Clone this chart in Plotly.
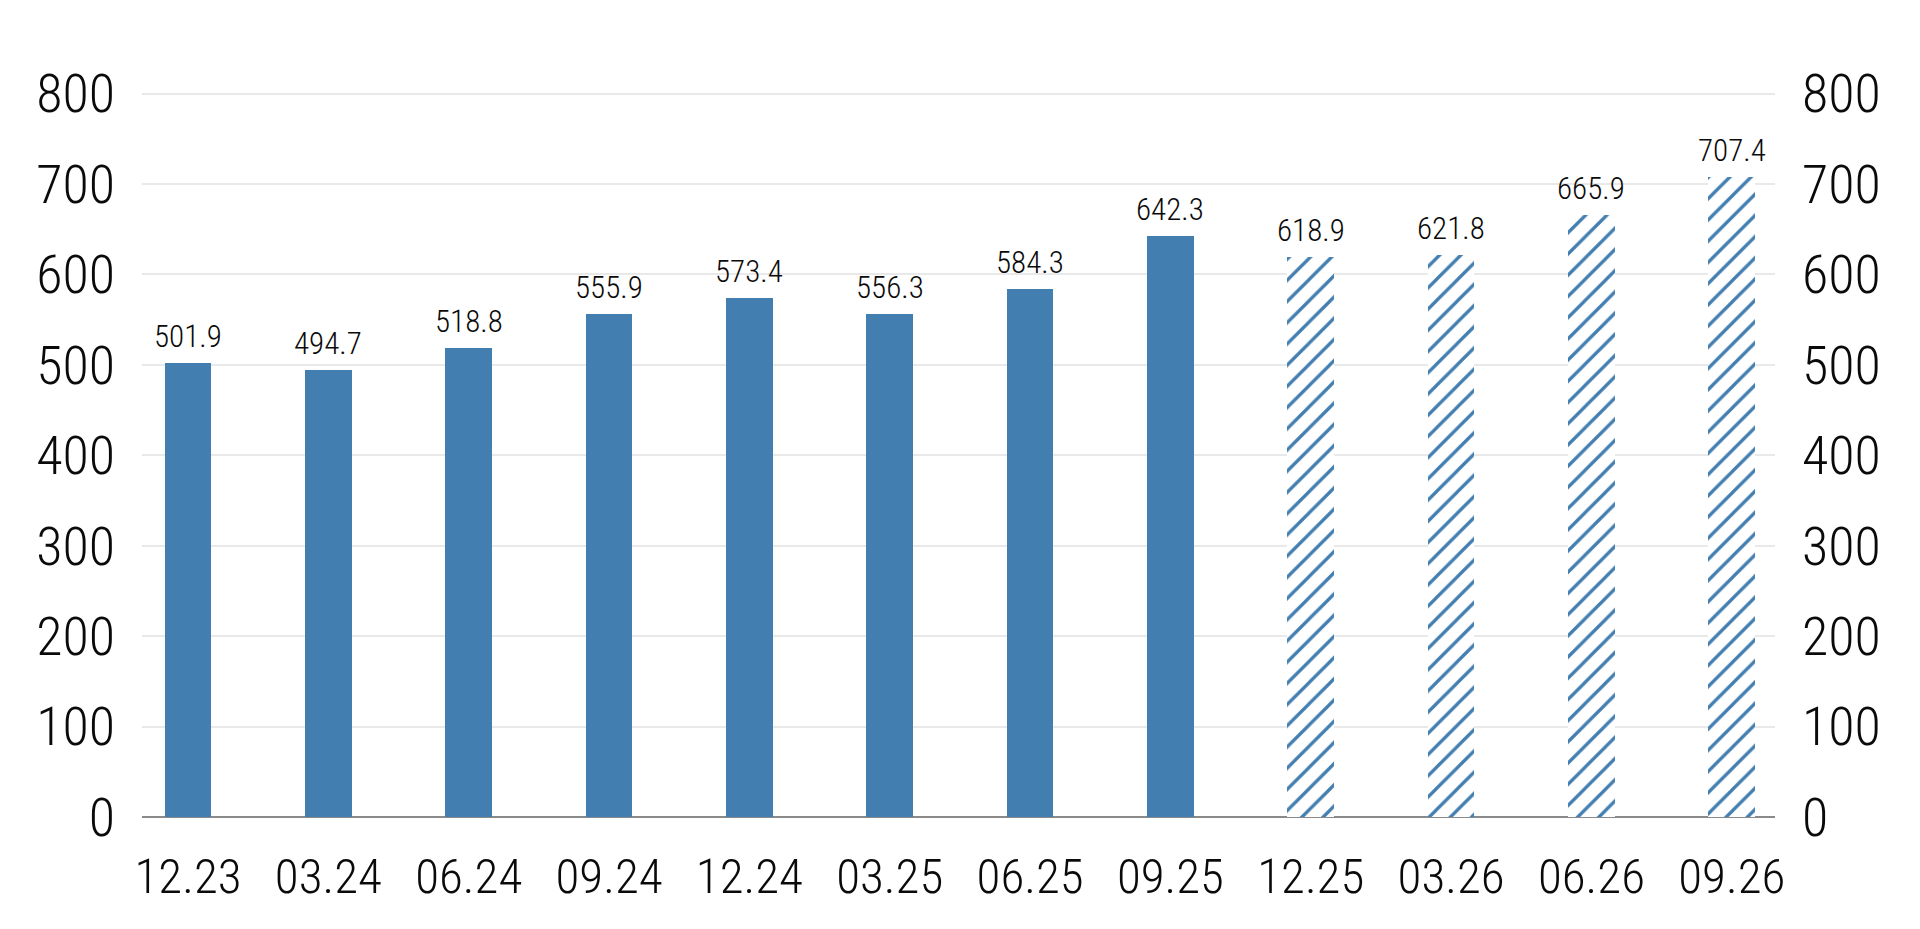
import plotly.graph_objects as go

# quarter labels, actual vs. forecast
actual_q = ["12.23", "03.24", "06.24", "09.24", "12.24", "03.25", "06.25", "09.25"]
actual_v = [501.9, 494.7, 518.8, 555.9, 573.4, 556.3, 584.3, 642.3]
fcast_q = ["12.25", "03.26", "06.26", "09.26"]
fcast_v = [618.9, 621.8, 665.9, 707.4]
yticks = [0, 100, 200, 300, 400, 500, 600, 700, 800]

BLUE = "#427EB0"
INK = "#0a0a0a"
FONT = "Roboto Condensed, Roboto, sans-serif"
cats = actual_q + fcast_q
values = actual_v + fcast_v

fig = go.Figure()
fig.add_trace(go.Bar(x=actual_q, y=actual_v, width=0.333,
                     marker=dict(color=BLUE, line=dict(width=0))))
fig.add_trace(go.Bar(x=fcast_q, y=fcast_v, width=0.333,
                     marker=dict(color="white", line=dict(width=0),
                                 pattern=dict(shape="/", fgcolor=BLUE, bgcolor="white",
                                              size=15, solidity=0.22, fillmode="replace"))))
# empty trace so the right-hand axis gets drawn
fig.add_trace(go.Scatter(x=cats, y=values, yaxis="y2", mode="none",
                         hoverinfo="skip", showlegend=False))

# value labels above the bars (x given as category index)
for i, v in enumerate(values):
    fig.add_annotation(x=i, y=v, text=f"{v:.1f}", showarrow=False,
                       yanchor="bottom", yshift=6,
                       font=dict(family=FONT, size=31, weight=300, color=INK))

ytickfont = dict(family=FONT, size=54, weight=300, color=INK)
xtickfont = dict(family=FONT, size=49, weight=300, color=INK)
fig.update_layout(
    width=1920, height=929,
    margin=dict(l=134, r=153, t=81, b=120),
    paper_bgcolor="white", plot_bgcolor="white",
    showlegend=False, bargap=0,
    font=dict(family=FONT, color=INK),
    xaxis=dict(type="category", categoryorder="array", categoryarray=cats,
               range=[-0.328, 11.308], showgrid=False, showline=False,
               ticks="", tickfont=xtickfont, ticklabelstandoff=26),
    yaxis=dict(range=[0, 805], tickvals=yticks, showgrid=True, gridcolor="#e9e9e9",
               gridwidth=1.5, zeroline=True, zerolinecolor="#8a8a8a", zerolinewidth=2,
               showline=False, ticks="", tickfont=ytickfont, ticklabelstandoff=26),
    yaxis2=dict(range=[0, 805], tickvals=yticks, overlaying="y", side="right",
                showgrid=False, zeroline=False, showline=False, ticks="",
                tickfont=ytickfont, ticklabelstandoff=26),
)

fig.write_html("out.html")
